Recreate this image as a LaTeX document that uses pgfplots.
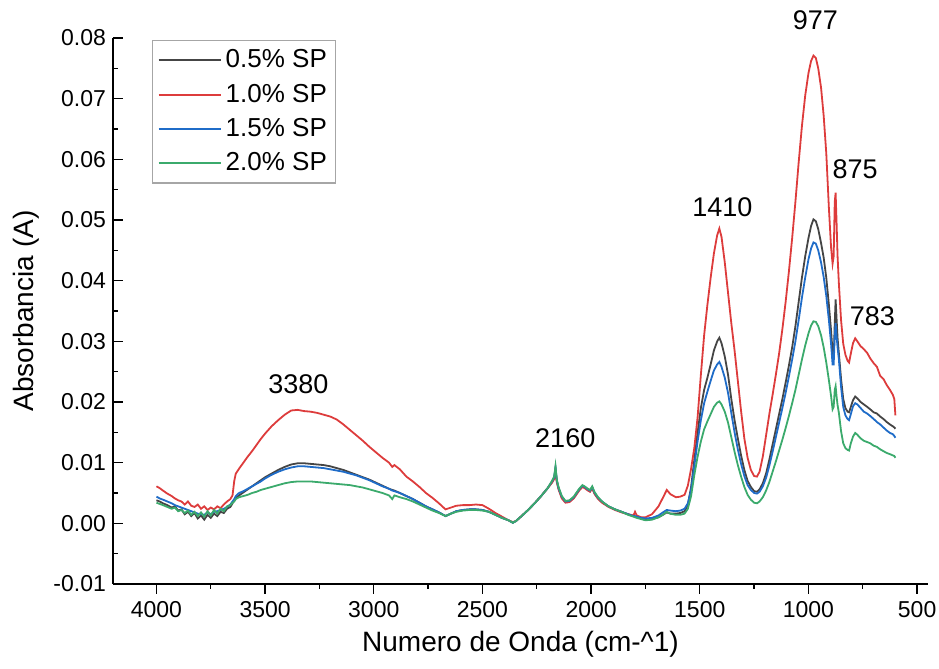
\documentclass[border=0pt]{standalone}
\usepackage{fontspec}
\setmainfont{Liberation Sans}
\usepackage{pgfplots}
\usepackage{pgfplotstable}
\pgfplotsset{compat=1.18}
\definecolor{sp05}{HTML}{454545}
\definecolor{sp10}{HTML}{DD3C3C}
\definecolor{sp15}{HTML}{1F6CC8}
\definecolor{sp20}{HTML}{3BAA6C}

% columns: wavenumber, 0.5% SP, 1.0% SP, 1.5% SP, 2.0% SP
\pgfplotstableread{
x k r b g
4000 .0038 .0061 .0044 .0034
3985 .0036 .0058 .0041 .0032
3970 .0033 .0054 .0039 .0030
3950 .0030 .0049 .0036 .0027
3930 .0026 .0045 .0033 .0024
3915 .0028 .0041 .0030 .0026
3900 .0021 .0038 .0028 .0020
3885 .0023 .0036 .0026 .0022
3870 .0015 .0031 .0024 .0017
3855 .0019 .0036 .0022 .0021
3840 .0012 .0029 .0020 .0014
3825 .0017 .0027 .0018 .0019
3810 .0008 .0031 .0016 .0012
3795 .0013 .0024 .0015 .0018
3780 .0006 .0028 .0014 .0011
3765 .0014 .0022 .0018 .0020
3750 .0009 .0026 .0015 .0013
3735 .0016 .0023 .0019 .0022
3720 .0012 .0028 .0020 .0016
3705 .0019 .0025 .0022 .0024
3690 .0017 .0031 .0024 .0020
3675 .0024 .0036 .0027 .0028
3660 .0027 .0040 .0031 .0030
3650 .0033 .0046 .0036 .0034
3642 .0038 .0070 .0040 .0036
3635 .0042 .0082 .0045 .0040
3620 .0046 .0090 .0050 .0043
3600 .0051 .0100 .0053 .0045
3580 .0056 .0110 .0057 .0047
3560 .0061 .0119 .0061 .0050
3540 .0066 .0129 .0065 .0052
3520 .0071 .0139 .0069 .0055
3500 .0076 .0148 .0074 .0057
3470 .0082 .0160 .0080 .0060
3440 .0088 .0170 .0085 .0063
3410 .0093 .0179 .0089 .0066
3380 .0097 .0186 .0092 .0068
3350 .0099 .0187 .0094 .0069
3320 .0099 .0185 .0094 .0069
3290 .0098 .0184 .0093 .0069
3260 .0097 .0182 .0092 .0068
3230 .0096 .0179 .0091 .0067
3200 .0094 .0176 .0089 .0066
3170 .0091 .0171 .0087 .0065
3140 .0088 .0163 .0085 .0064
3110 .0084 .0154 .0082 .0063
3080 .0080 .0145 .0079 .0061
3050 .0076 .0136 .0075 .0059
3020 .0072 .0126 .0071 .0056
2990 .0067 .0117 .0066 .0053
2960 .0062 .0108 .0061 .0050
2930 .0057 .0100 .0057 .0046
2915 .0055 .0093 .0054 .0040
2905 .0054 .0096 .0053 .0046
2880 .0050 .0089 .0050 .0043
2850 .0045 .0077 .0045 .0040
2820 .0040 .0069 .0040 .0036
2790 .0034 .0060 .0034 .0031
2760 .0028 .0050 .0028 .0026
2730 .0023 .0042 .0023 .0021
2700 .0018 .0033 .0018 .0017
2670 .0012 .0023 .0012 .0012
2645 .0016 .0026 .0016 .0016
2620 .0020 .0029 .0020 .0019
2590 .0022 .0030 .0022 .0021
2560 .0023 .0030 .0023 .0022
2530 .0023 .0031 .0023 .0022
2500 .0022 .0030 .0022 .0021
2470 .0019 .0024 .0019 .0019
2440 .0014 .0017 .0014 .0014
2410 .0009 .0011 .0009 .0009
2380 .0005 .0005 .0005 .0005
2360 .0001 .0002 .0001 .0001
2345 .0004 .0004 .0004 .0004
2320 .0012 .0012 .0012 .0012
2290 .0022 .0022 .0022 .0022
2260 .0033 .0033 .0033 .0033
2230 .0045 .0045 .0045 .0045
2200 .0058 .0058 .0058 .0058
2180 .0068 .0067 .0069 .0070
2170 .0075 .0073 .0076 .0077
2164 .0090 .0085 .0092 .0094
2158 .0070 .0068 .0071 .0072
2150 .0058 .0056 .0058 .0060
2135 .0043 .0041 .0044 .0045
2118 .0035 .0034 .0036 .0037
2100 .0036 .0035 .0037 .0038
2080 .0042 .0041 .0043 .0044
2055 .0055 .0054 .0056 .0057
2040 .0061 .0060 .0062 .0063
2030 .0059 .0058 .0060 .0061
2015 .0055 .0054 .0056 .0057
2005 .0053 .0052 .0054 .0055
1995 .0059 .0058 .0060 .0061
1985 .0050 .0049 .0051 .0052
1970 .0042 .0041 .0043 .0044
1950 .0035 .0034 .0036 .0036
1920 .0028 .0027 .0028 .0028
1890 .0023 .0022 .0023 .0023
1860 .0019 .0018 .0019 .0019
1830 .0015 .0015 .0015 .0014
1805 .0012 .0013 .0012 .0011
1798 .0011 .0019 .0012 .0010
1790 .0010 .0013 .0011 .0009
1770 .0008 .0010 .0009 .0007
1750 .0006 .0010 .0008 .0005
1720 .0007 .0015 .0009 .0006
1690 .0010 .0028 .0013 .0010
1670 .0014 .0042 .0018 .0014
1652 .0018 .0055 .0022 .0019
1635 .0016 .0048 .0021 .0016
1610 .0016 .0043 .0020 .0014
1590 .0017 .0044 .0021 .0014
1570 .0020 .0047 .0024 .0016
1555 .0030 .0062 .0033 .0024
1540 .0060 .0090 .0055 .0045
1525 .0105 .0125 .0095 .0080
1510 .0150 .0175 .0135 .0110
1495 .0190 .0245 .0170 .0135
1480 .0220 .0310 .0198 .0155
1465 .0240 .0360 .0217 .0168
1450 .0262 .0405 .0235 .0180
1435 .0285 .0445 .0252 .0192
1420 .0300 .0475 .0262 .0199
1410 .0306 .0486 .0266 .0201
1400 .0297 .0472 .0258 .0196
1385 .0275 .0430 .0240 .0184
1370 .0245 .0380 .0215 .0166
1355 .0205 .0330 .0182 .0142
1340 .0170 .0285 .0150 .0118
1325 .0140 .0235 .0122 .0096
1310 .0112 .0185 .0098 .0077
1295 .0088 .0140 .0078 .0060
1280 .0070 .0108 .0063 .0047
1265 .0060 .0088 .0055 .0039
1250 .0053 .0078 .0050 .0034
1237 .0052 .0077 .0049 .0033
1225 .0056 .0085 .0052 .0036
1210 .0066 .0110 .0061 .0043
1195 .0082 .0145 .0075 .0054
1180 .0105 .0180 .0095 .0068
1165 .0130 .0212 .0118 .0085
1150 .0155 .0245 .0142 .0102
1135 .0180 .0280 .0166 .0120
1120 .0205 .0320 .0190 .0138
1105 .0232 .0365 .0215 .0157
1090 .0260 .0415 .0242 .0177
1075 .0290 .0470 .0270 .0198
1060 .0325 .0530 .0300 .0220
1045 .0365 .0595 .0335 .0245
1030 .0405 .0655 .0372 .0270
1015 .0440 .0705 .0405 .0293
1000 .0470 .0742 .0435 .0313
988 .0490 .0762 .0453 .0326
977 .0501 .0771 .0463 .0333
966 .0498 .0767 .0461 .0332
955 .0485 .0750 .0450 .0325
942 .0462 .0718 .0430 .0310
930 .0438 .0672 .0406 .0290
918 .0405 .0610 .0375 .0265
906 .0360 .0520 .0335 .0236
896 .0318 .0455 .0296 .0210
889 .0282 .0428 .0262 .0188
884 .0270 .0440 .0262 .0192
879 .0330 .0530 .0310 .0220
875 .0369 .0545 .0330 .0226
871 .0340 .0500 .0310 .0210
866 .0305 .0440 .0290 .0195
860 .0280 .0395 .0270 .0182
850 .0238 .0335 .0225 .0152
840 .0205 .0296 .0192 .0132
830 .0190 .0278 .0178 .0124
820 .0184 .0268 .0172 .0121
813 .0183 .0265 .0170 .0120
805 .0192 .0280 .0180 .0132
795 .0203 .0297 .0193 .0143
785 .0209 .0305 .0198 .0149
775 .0206 .0300 .0196 .0146
760 .0200 .0292 .0190 .0140
745 .0196 .0287 .0184 .0136
730 .0192 .0281 .0181 .0134
716 .0188 .0272 .0177 .0132
700 .0183 .0264 .0172 .0128
685 .0181 .0258 .0167 .0126
670 .0176 .0243 .0163 .0122
655 .0172 .0238 .0158 .0119
640 .0167 .0228 .0153 .0116
625 .0163 .0220 .0149 .0114
612 .0160 .0212 .0147 .0112
605 .0158 .0205 .0144 .0111
600 .0156 .0178 .0141 .0108
}\spectra

\begin{document}
\begin{tikzpicture}
\path[use as bounding box] (-56.5pt,-42.5pt) rectangle (413pt,292pt);
\begin{axis}[
    name=ax,
    scale only axis,
    width=407.5pt,
    height=273pt,
    x dir=reverse,
    xmin=450, xmax=4200,
    ymin=-0.01, ymax=0.08,
    axis x line*=bottom,
    axis y line*=left,
    axis line style={-, line width=0.7pt},
    xtick={500,1000,1500,2000,2500,3000,3500,4000},
    ytick={-0.01,0,0.01,0.02,0.03,0.04,0.05,0.06,0.07,0.08},
    minor x tick num=1,
    minor y tick num=1,
    xtick align=outside,
    ytick align=inside,
    major tick length=5pt,
    minor tick length=2.5pt,
    tick style={line width=0.7pt, black},
    scaled y ticks=false,
    /pgf/number format/assume math mode=true,
    xticklabel style={font=\fontsize{11.5}{13}\selectfont, /pgf/number format/1000 sep={}},
    yticklabel style={font=\fontsize{11.5}{13}\selectfont,
        /pgf/number format/fixed, /pgf/number format/fixed zerofill,
        /pgf/number format/precision=2},
    xlabel={Numero de Onda (cm-\^{}1)},
    ylabel={Absorbancia (A)},
    xlabel style={font=\fontsize{14}{16}\selectfont},
    ylabel style={font=\fontsize{14}{16}\selectfont},
    legend style={at={(axis description cs:0.048,0.996)}, anchor=north west,
        draw=black!35, line width=0.6pt, font=\fontsize{13}{15}\selectfont,
        row sep=2.6pt, inner sep=2.5pt},
    legend cell align=left,
    legend image code/.code={\draw[#1, line width=1pt] (0pt,0pt) -- (31pt,0pt);},
    clip=false,
    every axis plot/.append style={line width=0.9pt},
]
\addplot[sp05] table[x=x, y=k] {\spectra};
\addplot[sp10] table[x=x, y=r] {\spectra};
\addplot[sp15] table[x=x, y=b] {\spectra};
\addplot[sp20] table[x=x, y=g] {\spectra};
\legend{0.5\% SP, 1.0\% SP, 1.5\% SP, 2.0\% SP}
\begin{scope}[every node/.style={font=\fontsize{13.5}{15}\selectfont}]
\node at (axis cs:968,0.0830) {977};
\node at (axis cs:785,0.0584) {875};
\node at (axis cs:706,0.0342) {783};
\node at (axis cs:1396,0.0521) {1410};
\node at (axis cs:2119,0.0141) {2160};
\node at (axis cs:3347,0.0230) {3380};
\end{scope}
\end{axis}
\end{tikzpicture}
\end{document}
